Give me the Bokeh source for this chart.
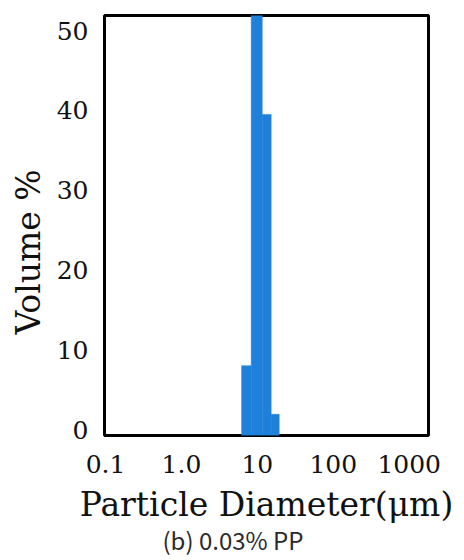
import math
from bokeh.plotting import figure
from bokeh.models import Range1d, FixedTicker, Title
from bokeh.embed import file_html
from bokeh.resources import INLINE

# bins of particle diameter (um) and volume %
bin_left = [6.2, 8.3, 11.6, 15.2]
bin_right = [8.3, 11.6, 15.2, 19.4]
volume = [8.0, 55.0, 39.5, 1.9]

x_ticks = [0.1, 1.0, 10, 100, 1000]
x_tick_labels = ["0.1", "1.0", "10", "100", "1000"]
y_ticks = [0, 10, 20, 30, 40, 50]

X_START, X_END = 0.097, 1795
Y_START, Y_END = -0.75, 51.9

FRAME_L, FRAME_T, FRAME_W, FRAME_H = 104, 15, 324, 420

p = figure(frame_width=FRAME_W, frame_height=FRAME_H, output_backend="svg",
           toolbar_location=None, x_axis_type="log",
           x_range=Range1d(X_START, X_END), y_range=Range1d(Y_START, Y_END),
           min_border_left=FRAME_L, min_border_right=35, min_border_top=FRAME_T,
           min_border_bottom=124)

p.quad(left=bin_left, right=bin_right, top=volume, bottom=[Y_START] * len(volume),
       fill_color="#1E80DA", line_color="#1E80DA", line_width=0.5)

p.grid.visible = False
p.outline_line_color = "black"
p.outline_line_width = 3
p.background_fill_color = "white"
p.border_fill_color = "white"

FONT = "DejaVu Serif"
for ax in (p.xaxis, p.yaxis):
    ax.axis_line_color = None
    ax.major_tick_line_color = None
    ax.minor_tick_line_color = None
    ax.major_label_text_font = FONT
    ax.major_label_text_font_size = "25px"
    ax.major_label_text_color = "#111111"

p.xaxis.ticker = FixedTicker(ticks=x_ticks)
p.xaxis.major_label_overrides = {t: l for t, l in zip(x_ticks, x_tick_labels)}
p.xaxis.major_label_standoff = 13
p.xaxis.axis_label = "Particle Diameter(μm)"
p.xaxis.axis_label_text_font = FONT
p.xaxis.axis_label_text_font_style = "normal"
p.xaxis.axis_label_text_font_size = "33px"
p.xaxis.axis_label_text_color = "#111111"
p.xaxis.axis_label_standoff = 9

p.yaxis.ticker = FixedTicker(ticks=y_ticks)
p.yaxis.major_label_standoff = 10

ylab = Title(text="Volume %", align="left", offset=101, standoff=11,
             text_font=FONT, text_font_size="33px", text_font_style="normal",
             text_color="#111111")
p.add_layout(ylab, "left")

cap = Title(text="(b) 0.03% PP", align="left", offset=58, standoff=-13,
            text_font="Noto Sans CJK KR", text_font_size="24px",
            text_font_style="normal", text_color="#2a2a2a")
p.add_layout(cap, "below")

open("out.html", "w").write(file_html(p, INLINE))
